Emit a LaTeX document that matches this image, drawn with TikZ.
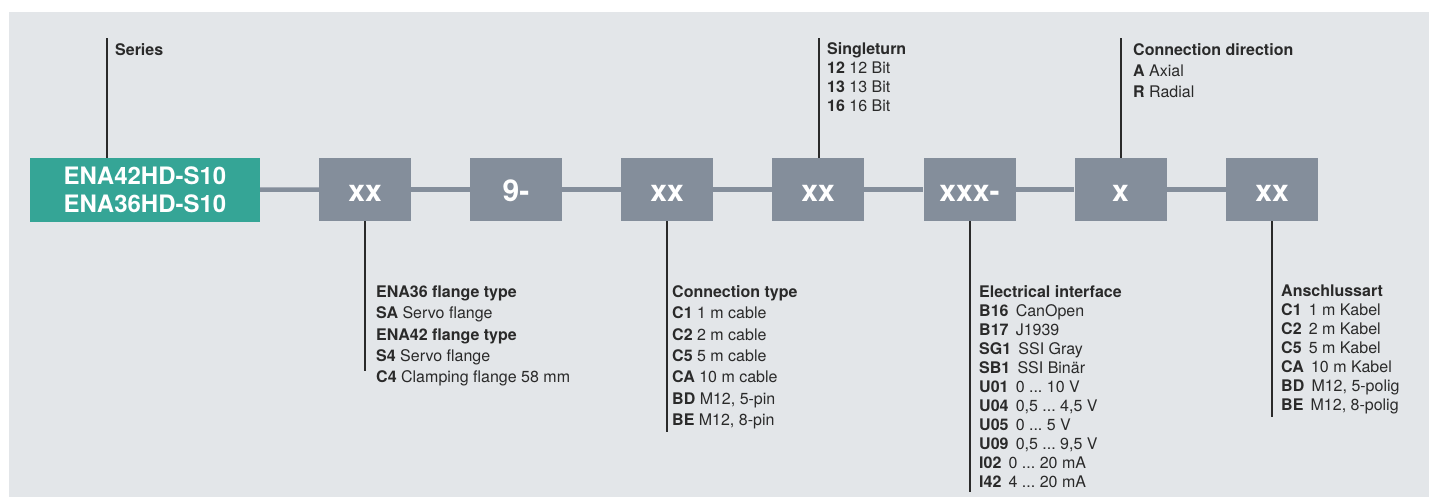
\documentclass[tikz,border=0pt]{standalone}
\usepackage{fontspec}
\setmainfont{TeX Gyre Heros}
\frenchspacing
\definecolor{bgc}{HTML}{E3E6E9}
\definecolor{tealbox}{HTML}{35A596}
\definecolor{boxg}{HTML}{848E9B}
\definecolor{txt}{HTML}{2A2A2A}
\definecolor{linec}{HTML}{2A2A2A}
\newcommand{\sfst}{\rule{0pt}{12pt}}
\newcommand{\dsp}{\hspace{0.45em}}
\begin{document}
\begin{tikzpicture}[x=1pt,y=-1pt,
  codebox/.style={fill=boxg, minimum width=92pt, minimum height=63pt, inner sep=0pt,
    text=white, font=\fontsize{30}{30}\selectfont\bfseries, text height=25pt, text depth=0pt},
  serbox/.style={fill=tealbox, minimum width=230pt, minimum height=64pt, inner sep=0pt,
    text=white, align=center, font=\fontsize{24}{28}\selectfont\bfseries},
  conn/.style={draw=boxg, line width=4.5pt},
  lead/.style={draw=linec, line width=1.1pt},
  info/.style={anchor=north west, inner sep=0pt, align=left, text=txt},
  fa/.style={font=\fontsize{16}{19}\selectfont\frenchspacing},
  fb/.style={font=\fontsize{16}{21.4}\selectfont\frenchspacing}
]
\useasboundingbox (0,0) rectangle (1435,497);
\fill[bgc] (9,12) rectangle (1429,497);

% boxes
\node[serbox] (ser) at (145,190) {ENA42HD-S10\\ENA36HD-S10};
\node[codebox] (c1) at (365,189.5) {xx};
\node[codebox] (c2) at (516,189.5) {9-};
\node[codebox] (c3) at (667,189.5) {xx};
\node[codebox] (c4) at (818,189.5) {xx};
\node[codebox] (c5) at (969.5,189.5) {xxx-};
\node[codebox] (c6) at (1120.5,189.5) {x};
\node[codebox] (c7) at (1272,189.5) {xx};

% connectors between boxes
\draw[conn] (ser) -- (c1);
\draw[conn] (c1) -- (c2);
\draw[conn] (c2) -- (c3);
\draw[conn] (c3) -- (c4);
\draw[conn] (c4) -- (c5);
\draw[conn] (c5) -- (c6);
\draw[conn] (c6) -- (c7);

% leader end points
\coordinate (pSer) at (107,38);
\coordinate (pSt) at (819,38);
\coordinate (pDir) at (1121,38);
\coordinate (pFl) at (365,371);
\coordinate (pCt) at (667,432);
\coordinate (pEi) at (970,492);
\coordinate (pAa) at (1272,417);

\draw[lead] (ser.north -| pSer) -- (pSer);
\draw[lead] (c4.north -| pSt) -- (pSt);
\draw[lead] (c6.north -| pDir) -- (pDir);
\draw[lead] (c1.south -| pFl) -- (pFl);
\draw[lead] (c3.south -| pCt) -- (pCt);
\draw[lead] (c5.south -| pEi) -- (pEi);
\draw[lead] (c7.south -| pAa) -- (pAa);

% texts
\node[info, fa] (tSer) at (115,43) {\sfst\textbf{Series}};
\node[info, fa] (tSt) at (827,42.5) {\sfst\textbf{Singleturn}\\
  \textbf{12} 12 Bit\\ \textbf{13} 13 Bit\\ \textbf{16} 16 Bit};
\node[info, fb] (tDir) at (1133,43) {\sfst\textbf{Connection direction}\\
  \textbf{A} Axial\\ \textbf{R} Radial};
\node[info, fb] (tFl) at (376,285) {\sfst\textbf{ENA36 flange type}\\
  \textbf{SA} Servo flange\\ \textbf{ENA42 flange type}\\
  \textbf{S4} Servo flange\\ \textbf{C4} Clamping flange 58 mm};
\node[info, fb] (tCt) at (672,285) {\sfst\textbf{Connection type}\\
  \textbf{C1} 1 m cable\\ \textbf{C2} 2 m cable\\ \textbf{C5} 5 m cable\\
  \textbf{CA} 10 m cable\\ \textbf{BD} M12, 5-pin\\ \textbf{BE} M12, 8-pin};
\node[info, fa] (tEi) at (979,285) {\sfst\textbf{Electrical interface}\\
  \textbf{B16}\dsp CanOpen\\ \textbf{B17}\dsp J1939\\ \textbf{SG1}\dsp SSI Gray\\
  \textbf{SB1}\dsp SSI Binär\\ \textbf{U01}\dsp 0 ... 10 V\\ \textbf{U04}\dsp 0,5 ... 4,5 V\\
  \textbf{U05}\dsp 0 ... 5 V\\ \textbf{U09}\dsp 0,5 ... 9,5 V\\ \textbf{I02}\dsp 0 ... 20 mA\\
  \textbf{I42}\dsp 4 ... 20 mA};
\node[info, fa] (tAa) at (1281,284) {\sfst\textbf{Anschlussart}\\
  \textbf{C1}\dsp 1 m Kabel\\ \textbf{C2}\dsp 2 m Kabel\\ \textbf{C5}\dsp 5 m Kabel\\
  \textbf{CA}\dsp 10 m Kabel\\ \textbf{BD}\dsp M12, 5-polig\\ \textbf{BE}\dsp M12, 8-polig};
\end{tikzpicture}
\end{document}
